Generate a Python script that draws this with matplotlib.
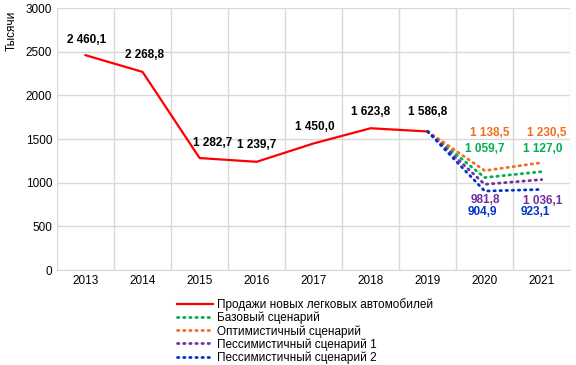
import numpy as np
import matplotlib.pyplot as plt

plt.rcParams['font.family'] = ['Liberation Sans', 'DejaVu Sans']

# Data
years = ['2013', '2014', '2015', '2016', '2017', '2018', '2019', '2020', '2021']
sales = [2460.1, 2268.8, 1282.7, 1239.7, 1450.0, 1623.8, 1586.8]
base = [1586.8, 1059.7, 1127.0]
optimistic = [1586.8, 1138.5, 1230.5]
pess1 = [1586.8, 981.8, 1036.1]
pess2 = [1586.8, 904.9, 923.1]

def fmt(v):
    s = '{:,.1f}'.format(v)
    return s.replace(',', ' ').replace('.', ',')

fig = plt.figure(figsize=(5.76, 3.65), dpi=100)
ax = fig.add_axes([0.099, 0.26, 0.891, 0.718])

x = np.arange(len(years))
xs = x[6:9]
dots = (0, (0.5, 1.7))

ax.plot(x[:7], sales, color='#ff0000', lw=1.6, label='Продажи новых легковых автомобилей')
ax.plot(xs, base, color='#00b050', lw=2, ls=dots, dash_capstyle='round', label='Базовый сценарий')
ax.plot(xs, optimistic, color='#f26d21', lw=2, ls=dots, dash_capstyle='round', label='Оптимистичный сценарий')
ax.plot(xs, pess1, color='#7030a0', lw=2, ls=dots, dash_capstyle='round', label='Пессимистичный сценарий 1')
ax.plot(xs, pess2, color='#0033cc', lw=2, ls=dots, dash_capstyle='round', label='Пессимистичный сценарий 2')

# labels of actual sales (pixel offsets)
red_off = [(1, 15), (2, 17), (13, 15), (0, 17), (1, 16), (0, 16), (0, 19)]
for xi, v, (dx, dy) in zip(x[:7], sales, red_off):
    ax.annotate(fmt(v), (xi, v), xytext=(dx, dy), textcoords='offset pixels',
                ha='center', va='center', fontsize=8.5, fontweight='bold')

# scenario labels
scen = [
    (optimistic, '#f26d21', [(5, 38), (5, 30)]),
    (base, '#00b050', [(0, 29), (1, 23)]),
    (pess1, '#7030a0', [(1, -16), (1, -21)]),
    (pess2, '#0033cc', [(-2, -21), (-6, -23)]),
]
for vals, col, offs in scen:
    for xi, v, (dx, dy) in zip(xs[1:], vals[1:], offs):
        ax.annotate(fmt(v), (xi, v), xytext=(dx, dy), textcoords='offset pixels',
                    ha='center', va='center', fontsize=8.5, fontweight='bold', color=col)

ax.set_xlim(-0.5, len(years) - 0.5)
ax.set_ylim(0, 3000)
ax.set_yticks(np.arange(0, 3001, 500))
ax.set_xticks(x)
ax.set_xticklabels(years)
ax.set_xticks(np.arange(-0.5, len(years), 1), minor=True)
ax.grid(True, which='major', axis='y', color='#d9d9d9', lw=1)
ax.grid(True, which='minor', axis='x', color='#d9d9d9', lw=1)
ax.tick_params(which='both', length=0, labelsize=8.5)
for s in ['top', 'right', 'left']:
    ax.spines[s].set_visible(False)
ax.spines['bottom'].set_color('#d9d9d9')

fig.text(12 / 576, 1 - 31 / 365, 'Тысячи', rotation=90, ha='center', va='center', fontsize=8.5)

ax.legend(loc='upper left', bbox_to_anchor=(0.224, -0.09), frameon=False,
          fontsize=8.5, handlelength=3.05, handletextpad=0.35, labelspacing=0.05,
          borderaxespad=0)

fig.savefig('out.png', dpi=100)
